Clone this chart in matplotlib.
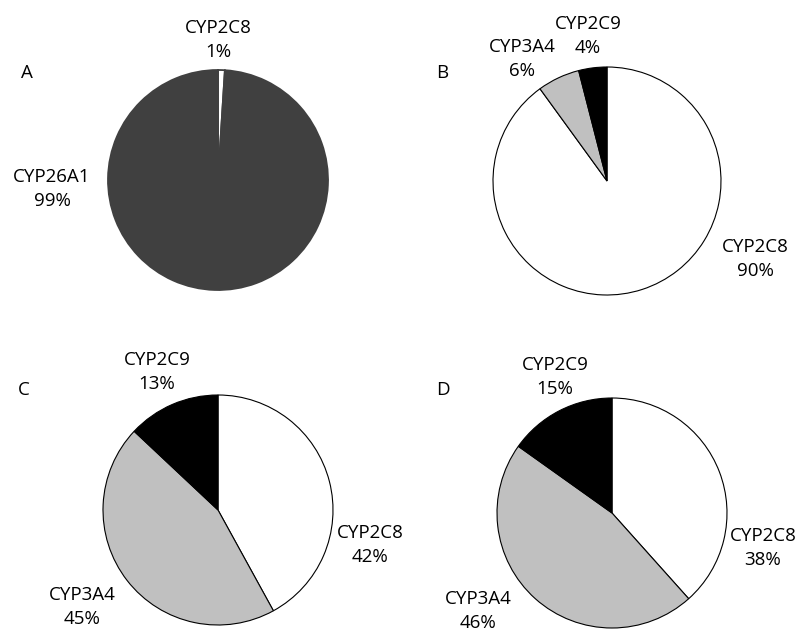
import matplotlib.pyplot as plt

# data per panel (clockwise from 12 o'clock)
a_names = ['CYP2C8', 'CYP26A1']
a_vals = [1, 99]
b_names = ['CYP2C8', 'CYP3A4', 'CYP2C9']
b_vals = [90, 6, 4]
c_names = ['CYP2C8', 'CYP3A4', 'CYP2C9']
c_vals = [42, 45, 13]
d_names = ['CYP2C8', 'CYP3A4', 'CYP2C9']
d_vals = [38, 46, 15]

plt.rcParams['font.family'] = ['Open Sans', 'DejaVu Sans']

W, H = 800, 637
fig = plt.figure(figsize=(8, 6.37), dpi=100)
ax = fig.add_axes([0, 0, 1, 1])
ax.set_xlim(0, W)
ax.set_ylim(0, H)
ax.set_aspect('equal')
ax.axis('off')


def py(y):
    # pixel row (from top) -> data y
    return H - y


def draw(vals, colors, cx, cy, r, ec, lw):
    ax.pie(vals, colors=colors, center=(cx, py(cy)), radius=r,
           startangle=90, counterclock=False, frame=True,
           wedgeprops=dict(edgecolor=ec, linewidth=lw))


draw(a_vals, ['white', '#404040'], 218, 180, 110, '#404040', 1.3)
draw(b_vals, ['white', '#c0c0c0', 'black'], 607, 181, 114, 'black', 0.8)
draw(c_vals, ['white', '#c0c0c0', 'black'], 218, 510, 115, 'black', 0.8)
draw(d_vals, ['white', '#c0c0c0', 'black'], 612, 513, 115, 'black', 0.8)

# restore full-figure view (pie resets limits)
ax.set_xlim(0, W)
ax.set_ylim(0, H)
ax.axis('off')

fs = 13.5


def lab(name, val, x, y):
    ax.text(x, py(y), f'{name}\n{val}%', ha='center', va='center',
            fontsize=fs, linespacing=1.4)


def letter(s, x, y):
    ax.text(x, py(y), s, ha='center', va='center', fontsize=fs)


letter('A', 27, 73)
lab(a_names[0], a_vals[0], 218, 40)
lab(a_names[1], a_vals[1], 52, 189)

letter('B', 442, 73)
lab(b_names[0], b_vals[0], 755, 259)
lab(b_names[1], b_vals[1], 522, 59)
lab(b_names[2], b_vals[2], 588, 36)

letter('C', 24, 390)
lab(c_names[0], c_vals[0], 370, 545)
lab(c_names[1], c_vals[1], 82, 607)
lab(c_names[2], c_vals[2], 157, 372)

letter('D', 443, 390)
lab(d_names[0], d_vals[0], 763, 548)
lab(d_names[1], d_vals[1], 478, 611)
lab(d_names[2], d_vals[2], 555, 377)

fig.savefig('out.png', dpi=100)
